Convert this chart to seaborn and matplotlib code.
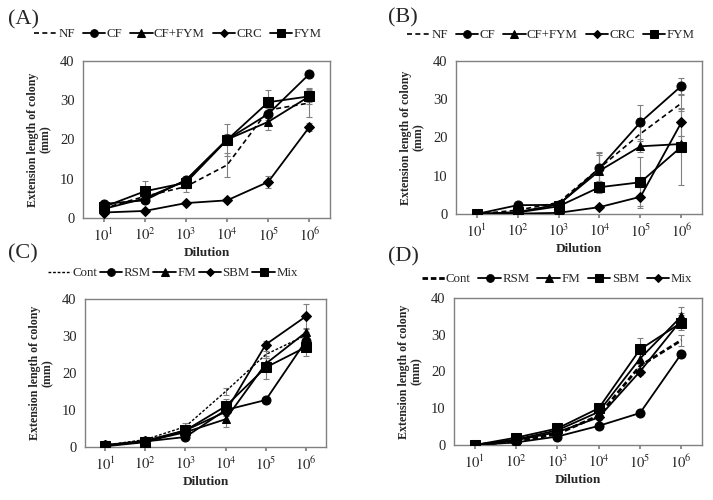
import numpy as np
import pandas as pd
import seaborn as sns
import matplotlib
matplotlib.use("Agg")
import matplotlib.pyplot as plt

# ===============================
# DATA
# ===============================
dilution_exp = [1, 2, 3, 4, 5, 6]
tick_labels = [r"$10^{1}$", r"$10^{2}$", r"$10^{3}$", r"$10^{4}$", r"$10^{5}$", r"$10^{6}$"]

# (A)
a_names = ["NF", "CF", "CF+FYM", "CRC", "FYM"]
a_nf = [2.5, 5.5, 8.0, 13.5, 27.5, 29.3]
a_cf = [3.6, 4.5, 9.7, 20.0, 26.5, 36.7]
a_cffym = [2.3, 5.0, 9.5, 20.0, 24.5, 31.0]
a_crc = [1.4, 1.8, 3.8, 4.5, 9.2, 23.2]
a_fym = [2.8, 6.8, 9.0, 19.9, 29.5, 31.0]
a_nf_err = [0.5, 1.0, 1.5, 3.0, 1.5, 3.5]
a_cf_err = [0.5, 0.5, 0.8, 1.5, 1.5, 0.5]
a_cffym_err = [0.5, 0.5, 0.5, 1.0, 2.0, 1.5]
a_crc_err = [0.3, 0.3, 0.4, 0.5, 1.5, 1.0]
a_fym_err = [0.5, 2.7, 1.0, 4.0, 3.0, 2.0]

# (B)
b_nf = [0.0, 1.0, 3.0, 12.0, 21.0, 29.0]
b_cf = [0.0, 2.3, 2.4, 12.0, 24.0, 33.5]
b_cffym = [0.0, 0.5, 2.5, 11.3, 17.7, 18.3]
b_crc = [0.0, 0.1, 0.3, 1.8, 4.5, 24.0]
b_fym = [0.0, 0.4, 2.0, 7.0, 8.3, 17.6]
b_nf_err = [0.0, 0.5, 0.5, 4.0, 4.0, 2.0]
b_cf_err = [0.0, 0.3, 0.5, 4.3, 4.5, 2.0]
b_cffym_err = [0.0, 0.3, 0.5, 4.0, 1.5, 2.0]
b_crc_err = [0.0, 0.1, 0.2, 0.5, 2.5, 3.5]
b_fym_err = [0.0, 0.2, 0.5, 1.5, 6.7, 10.0]

# (C)
c_names = ["Cont", "RSM", "FM", "SBM", "Mix"]
c_cont = [0.5, 2.0, 5.5, 15.0, 25.0, 30.2]
c_rsm = [0.5, 1.5, 2.7, 10.0, 12.7, 28.7]
c_fm = [0.3, 1.5, 4.0, 7.5, 22.5, 31.0]
c_sbm = [0.5, 1.7, 4.5, 9.5, 27.7, 35.3]
c_mix = [0.2, 1.3, 4.5, 11.0, 21.5, 27.0]
c_cont_err = [0.3, 0.5, 1.0, 1.0, 1.0, 1.0]
c_rsm_err = [0.2, 0.3, 0.5, 1.0, 0.8, 1.0]
c_fm_err = [0.2, 0.3, 0.5, 2.0, 1.5, 1.2]
c_sbm_err = [0.2, 0.3, 0.5, 1.0, 1.0, 3.3]
c_mix_err = [0.2, 0.3, 0.6, 2.0, 3.0, 2.5]

# (D)
d_cont = [0.0, 1.0, 3.0, 8.0, 21.5, 28.5]
d_rsm = [0.0, 0.7, 2.3, 5.2, 8.7, 24.8]
d_fm = [0.0, 1.5, 4.0, 9.0, 23.5, 35.0]
d_sbm = [0.0, 2.0, 4.5, 10.0, 26.0, 33.3]
d_mix = [0.0, 1.3, 3.5, 7.5, 20.0, 34.0]
d_cont_err = [0.0, 0.3, 0.5, 0.5, 1.0, 1.5]
d_rsm_err = [0.0, 0.2, 0.3, 0.5, 0.5, 0.8]
d_fm_err = [0.0, 0.3, 0.5, 0.8, 1.5, 2.5]
d_sbm_err = [0.0, 0.3, 0.5, 0.8, 3.0, 2.0]
d_mix_err = [0.0, 0.3, 0.5, 0.8, 1.0, 2.0]

# ===============================
# STYLE
# ===============================
sns.set_theme(style="white")
plt.rcParams["font.family"] = ["Liberation Serif", "DejaVu Serif"]
plt.rcParams["mathtext.fontset"] = "stix"

fig = plt.figure(figsize=(7.13, 5.0), dpi=100)
W, H = 713, 500


def add_axes_px(left, top, right, bottom):
    return fig.add_axes([left / W, 1 - bottom / H, (right - left) / W, (bottom - top) / H])


def draw_panel(ax, names, values, errs, markers, msizes, dash, dash_lw, leg_anchor, colsp):
    # error bars first (grey, behind lines)
    for v, e in zip(values, errs):
        ax.errorbar(dilution_exp, v, yerr=e, fmt="none", ecolor="#808080",
                    elinewidth=0.8, capsize=2, capthick=0.8, zorder=1)

    handles = []
    for i, (n, v) in enumerate(zip(names, values)):
        n_before = len(ax.lines)
        sns.lineplot(x=dilution_exp, y=v, color="black", marker=markers[i] or None,
                     markersize=msizes[i], markeredgecolor="black",
                     linewidth=dash_lw if i == 0 else 1.3, ax=ax, label=n,
                     zorder=3, legend=False)
        line = ax.lines[n_before]
        if i == 0:
            line.set_dashes(dash)
        handles.append(line)

    ax.legend(handles, names, loc="center", bbox_to_anchor=leg_anchor,
              bbox_transform=fig.transFigure, ncol=5, frameon=False,
              fontsize=9.3, handlelength=1.75, handletextpad=0.1,
              columnspacing=colsp, borderpad=0, markerscale=0.85)

    ax.set_xlim(0.5, 6.5)
    ax.set_ylim(0, 40)
    ax.set_yticks([0, 10, 20, 30, 40])
    ax.set_xticks(dilution_exp)
    ax.set_xticklabels(tick_labels)
    ax.tick_params(axis="both", labelsize=10.5, length=3, color="#808080",
                   direction="out", bottom=True, left=False, pad=3)
    for s in ax.spines.values():
        s.set_color("#808080")
        s.set_linewidth(1.0)
    ax.set_xlabel("Dilution", fontsize=9.5, fontweight="bold", labelpad=2)
    ax.set_ylabel("Extension length of colony\n(mm)", fontsize=8.6,
                  fontweight="bold", labelpad=6, linespacing=1.05)


ax_a = add_axes_px(83, 61, 330, 218)
draw_panel(ax_a, a_names, [a_nf, a_cf, a_cffym, a_crc, a_fym],
           [a_nf_err, a_cf_err, a_cffym_err, a_crc_err, a_fym_err],
           ["", "o", "^", "D", "s"], [0, 6.5, 6, 5, 6.5], (3, 2), 1.2,
           (178 / W, 1 - 34 / H), 0.6)

ax_b = add_axes_px(456, 61, 702, 214)
draw_panel(ax_b, a_names, [b_nf, b_cf, b_cffym, b_crc, b_fym],
           [b_nf_err, b_cf_err, b_cffym_err, b_crc_err, b_fym_err],
           ["", "o", "^", "D", "s"], [0, 6.5, 6, 5, 6.5], (3, 2), 1.2,
           (551 / W, 1 - 35 / H), 0.6)

ax_c = add_axes_px(85, 299, 326, 447)
draw_panel(ax_c, c_names, [c_cont, c_rsm, c_fm, c_sbm, c_mix],
           [c_cont_err, c_rsm_err, c_fm_err, c_sbm_err, c_mix_err],
           ["", "o", "^", "D", "s"], [0, 6.5, 6, 5, 6.5], (2, 1.3), 1.0,
           (173 / W, 1 - 273 / H), 0.2)

ax_d = add_axes_px(454, 298, 702, 445)
draw_panel(ax_d, c_names, [d_cont, d_rsm, d_fm, d_sbm, d_mix],
           [d_cont_err, d_rsm_err, d_fm_err, d_sbm_err, d_mix_err],
           ["", "o", "^", "s", "D"], [0, 6.5, 6, 6.5, 5], (2, 1), 2.0,
           (557 / W, 1 - 279 / H), 0.6)

for lab, x, y in [("(A)", 8, 20), ("(B)", 388, 18), ("(C)", 8, 254), ("(D)", 388, 257)]:
    fig.text(x / W, 1 - y / H, lab, fontsize=16, va="center", ha="left")

fig.savefig("out.png", dpi=100)
